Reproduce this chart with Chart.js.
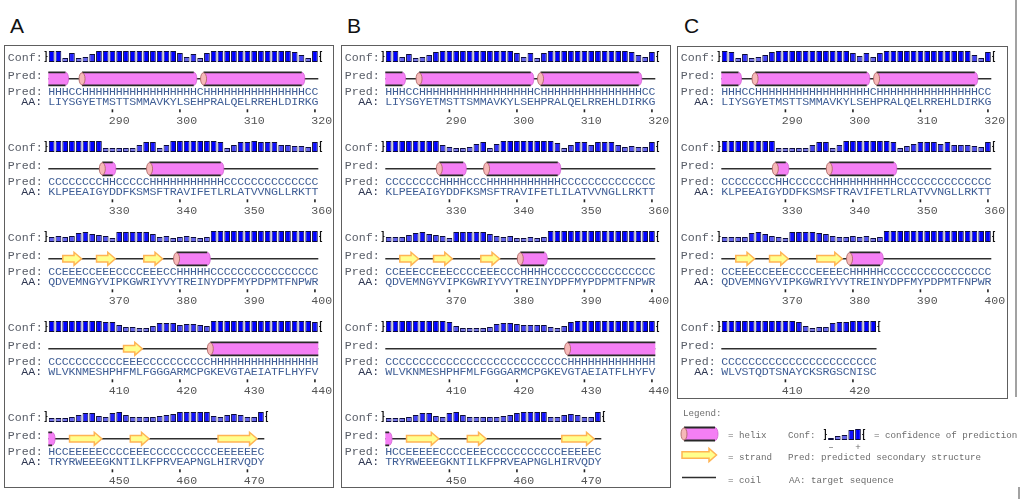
<!DOCTYPE html>
<html>
<head>
<meta charset="utf-8">
<script src="https://cdn.jsdelivr.net/npm/chart.js@4.4.1/dist/chart.umd.min.js"></script>
<style>
html, body { margin: 0; padding: 0; background: #fff; }
body { width: 1024px; height: 499px; position: relative; overflow: hidden; }
.panel { position: absolute; border: 1.5px solid #5e5e5e; box-sizing: border-box; }
.tag { position: absolute; font: 21px "Liberation Sans", Arial, sans-serif; line-height: 21px; color: #111; }
.edge { position: absolute; width: 1.5px; background: #a2a2a2; }
canvas { position: absolute; }
</style>
</head>
<body>
<div class="tag" style="left:10px;top:15px">A</div>
<div class="tag" style="left:347px;top:15px">B</div>
<div class="tag" style="left:684px;top:15px">C</div>
<div class="panel" style="left:4px;top:45px;width:330px;height:443px"></div>
<div class="panel" style="left:341px;top:45px;width:330px;height:443px"></div>
<div class="panel" style="left:677px;top:46px;width:331px;height:353px"></div>
<div class="edge" style="left:1015px;top:0;height:397px"></div>
<div class="edge" style="left:1018px;top:487px;height:12px"></div>
<script>
// first residue number of each line
const rowStarts = [281, 321, 361, 401, 441];

// target sequence, one string per line
const aaA = [
    'LIYSGYETMSTTSMMAVKYLSEHPRALQELRREHLDIRKG',
    'KLPEEAIGYDDFKSMSFTRAVIFETLRLATVVNGLLRKTT',
    'QDVEMNGYVIPKGWRIYVYTREINYDPFMYPDPMTFNPWR',
    'WLVKNMESHPHFMLFGGGARMCPGKEVGTAEIATFLHYFV',
    'TRYRWEEEGKNTILKFPRVEAPNGLHIRVQDY',
];
const aaB = [
    'LIYSGYETMSTTSMMAVKYLSEHPRALQELRREHLDIRKG',
    'KLPEEAIGYDDFKSMSFTRAVIFETLILATVVNGLLRKTT',
    'QDVEMNGYVIPKGWRIYVYTREINYDPFMYPDPMTFNPWR',
    'WLVKNMESHPHFMLFGGGARMCPGKEVGTAEIATFLHYFV',
    'TRYRWEEEGKNTILKFPRVEAPNGLHIRVQDY',
];
const aaC = [
    'LIYSGYETMSTTSMMAVKYLSEHPRALQELRREHLDIRKG',
    'KLPEEAIGYDDFKSMSFTRAVIFETLRLATVVNGLLRKTT',
    'QDVEMNGYVIPKGWRIYVYTREINYDPFMYPDPMTFNPWR',
    'WLVSTQDTSNAYCKSRGSCNISC',
];

// predicted secondary structure (H helix, E strand, C coil)
const predA = [
    'HHHCCHHHHH' + 'HHHHHHHHHH' + 'HHCHHHHHHH' + 'HHHHHHHHCC',
    'CCCCCCCCHH' + 'CCCCCHHHHH' + 'HHHHHHCCCC' + 'CCCCCCCCCC',
    'CCEEECCEEE' + 'CCCCEEECCH' + 'HHHHCCCCCC' + 'CCCCCCCCCC',
    'CCCCCCCCCC' + 'CEEECCCCCC' + 'CCCCHHHHHH' + 'HHHHHHHHHH',
    'HCCEEEEECC' + 'CCEEECCCCC' + 'CCCCCEEEEE' + 'EC',
];
const predB = [
    'HHHCCHHHHH' + 'HHHHHHHHHH' + 'HHCHHHHHHH' + 'HHHHHHHHCC',
    'CCCCCCCCHH' + 'HHCCCHHHHH' + 'HHHHHHCCCC' + 'CCCCCCCCCC',
    'CCEEECCEEE' + 'CCCCEEECCC' + 'HHHHCCCCCC' + 'CCCCCCCCCC',
    'CCCCCCCCCC' + 'CCCCCCCCCC' + 'CCCCCCCHHH' + 'HHHHHHHHHH',
    'HCCEEEEECC' + 'CCEEECCCCC' + 'CCCCCCEEEE' + 'EC',
];
const predC = [
    'HHHCCHHHHH' + 'HHHHHHHHHH' + 'HHCHHHHHHH' + 'HHHHHHHHCC',
    'CCCCCCCCHH' + 'CCCCCCHHHH' + 'HHHHHHCCCC' + 'CCCCCCCCCC',
    'CCEEECCEEE' + 'CCCCEEEECH' + 'HHHHCCCCCC' + 'CCCCCCCCCC',
    'CCCCCCCCCC' + 'CCCCCCCCCC' + 'CCC',
];

// confidence of prediction, 0..9 per residue
const confA = [
    [9,9,2,7,2,3,6,9,9,9, 9,9,9,9,9,9,9,9,9,7, 3,6,2,7,9,9,9,9,9,9, 9,9,9,9,9,9,8,5,2,9],
    [9,9,9,9,9,9,9,9,2,2, 2,2,2,5,8,8,2,5,9,9, 9,9,9,9,9,8,2,5,8,8, 9,8,8,8,5,5,4,4,3,8],
    [3,4,3,4,7,8,6,5,4,2, 8,8,8,8,8,6,3,4,2,3, 4,3,2,3,9,9,9,9,9,9, 9,9,9,9,9,9,9,9,9,9],
    [9,9,9,9,9,9,9,9,8,8, 5,3,3,2,2,4,7,7,7,5, 6,6,5,4,9,9,9,9,9,9, 9,9,9,9,9,9,9,9,9,8],
    [2,2,2,3,5,7,7,4,3,7, 8,5,3,3,3,3,4,5,6,8, 8,8,8,8,4,3,5,6,5,3, 3,8],
];
const confB = [
    [9,9,3,6,2,3,5,8,9,9, 9,9,9,9,9,9,9,9,9,7, 3,7,2,7,9,9,9,9,9,9, 9,9,9,9,9,9,8,5,3,8],
    [9,9,9,9,9,9,9,9,5,3, 2,2,3,6,8,2,6,9,9,9, 9,9,9,9,9,7,2,5,8,8, 5,8,8,8,5,3,4,3,3,8],
    [3,3,3,5,7,8,6,5,4,2, 8,8,8,8,8,6,4,3,4,2, 2,3,2,3,9,9,9,9,9,9, 9,9,9,9,9,9,9,9,9,9],
    [9,9,9,9,9,9,9,9,9,8, 4,2,2,2,2,3,6,7,7,6, 5,5,5,5,3,2,4,8,9,9, 9,9,9,9,9,9,9,9,9,9],
    [2,2,2,3,5,7,7,4,3,7, 8,5,3,3,3,3,3,4,5,7, 8,8,8,8,3,3,5,6,5,3, 3,8],
];
const confC = [
    [9,8,2,6,2,3,5,8,9,9, 9,9,9,9,9,9,9,9,9,7, 4,7,3,7,9,9,9,9,9,9, 9,9,9,9,9,9,9,5,2,8],
    [9,9,9,9,9,9,9,9,2,2, 2,2,2,5,8,8,2,5,9,9, 9,9,9,9,9,8,2,4,6,8, 8,8,6,8,5,5,5,4,3,8],
    [3,3,3,3,7,8,6,4,3,2, 8,8,8,8,7,6,4,3,3,4, 3,4,2,3,9,9,9,9,9,9, 9,9,9,9,9,9,9,9,9,9],
    [9,9,9,9,9,9,9,9,9,9, 9,8,4,2,3,3,7,8,8,9, 9,9,9],
];

// the little confidence scale in the legend
const legendConf = [0, 2, 3, 8, 9];

const ROW_LEN = 40;
const CHAR_W = 6.75;
const MONO = '"Liberation Mono", "Courier New", monospace';
const SEQ_FONT = '11.6px ' + MONO;
const LEG_FONT = '9.2px ' + MONO;
const SEQ_COL = '#3f5e96';
const LABEL_COL = '#575c66';

function confColor(v) {
    const t = v / 9;
    const c = Math.round(150 * (1 - t));
    return `rgb(${c},${c},${Math.round(255 - 22 * (1 - t))})`;
}

function drawBracket(ctx, x, top, bottom, dir) {
    // dir -1 = opening bracket left of the bars, 1 = closing bracket right of them
    ctx.save();
    ctx.strokeStyle = '#111';
    ctx.lineWidth = 1.2;
    const xv = x + dir * 2.2;
    ctx.beginPath();
    ctx.moveTo(xv + dir * 1.6, top + 0.5);
    ctx.lineTo(xv, top + 0.5);
    ctx.lineTo(xv, bottom - 0.5);
    ctx.lineTo(xv + dir * 1.6, bottom - 0.5);
    ctx.moveTo(xv, (top + bottom) / 2);
    ctx.lineTo(xv - dir * 1.4, (top + bottom) / 2);
    ctx.stroke();
    ctx.restore();
}

function drawHelix(ctx, xs, xe, yc, capLeft, roundRight) {
    const hh = 6.5, r = 3;
    ctx.save();
    ctx.fillStyle = '#f47ff4';
    ctx.beginPath();
    ctx.moveTo(xs, yc - hh);
    if (roundRight) {
        ctx.lineTo(xe - r, yc - hh);
        ctx.ellipse(xe - r, yc, r, hh, 0, -Math.PI / 2, Math.PI / 2);
    } else {
        ctx.lineTo(xe, yc - hh);
        ctx.lineTo(xe, yc + hh);
    }
    ctx.lineTo(xs, yc + hh);
    ctx.closePath();
    ctx.fill();

    ctx.strokeStyle = '#282828';
    ctx.lineWidth = 1.8;
    ctx.beginPath();
    ctx.moveTo(xs, yc - hh);
    ctx.lineTo(roundRight ? xe - r : xe, yc - hh);
    ctx.moveTo(xs, yc + hh);
    ctx.lineTo(roundRight ? xe - r : xe, yc + hh);
    ctx.stroke();
    if (roundRight) {
        ctx.strokeStyle = '#d060d0';
        ctx.lineWidth = 0.8;
        ctx.beginPath();
        ctx.ellipse(xe - r, yc, r, hh, 0, -Math.PI / 2, Math.PI / 2);
        ctx.stroke();
    }
    if (capLeft) {
        ctx.fillStyle = '#f6b8b8';
        ctx.strokeStyle = '#b06868';
        ctx.lineWidth = 0.9;
        ctx.beginPath();
        ctx.ellipse(xs, yc, r, hh - 0.4, 0, 0, Math.PI * 2);
        ctx.fill();
        ctx.stroke();
    }
    ctx.restore();
}

function drawStrand(ctx, xs, xe, yc) {
    const sh = 3.3, hh = 6.5;
    const hl = Math.min(8, (xe - xs) * 0.45);
    ctx.save();
    ctx.fillStyle = '#ffff8e';
    ctx.strokeStyle = '#ffb454';
    ctx.lineWidth = 1.5;
    ctx.lineJoin = 'miter';
    ctx.beginPath();
    ctx.moveTo(xs + 1, yc - sh);
    ctx.lineTo(xe - hl, yc - sh);
    ctx.lineTo(xe - hl, yc - hh);
    ctx.lineTo(xe - 0.5, yc);
    ctx.lineTo(xe - hl, yc + hh);
    ctx.lineTo(xe - hl, yc + sh);
    ctx.lineTo(xs + 1, yc + sh);
    ctx.closePath();
    ctx.fill();
    ctx.stroke();
    ctx.restore();
}

function drawCoil(ctx, xs, xe, yc) {
    ctx.save();
    ctx.strokeStyle = '#2e2e2e';
    ctx.lineWidth = 1.6;
    ctx.beginPath();
    ctx.moveTo(xs, yc);
    ctx.lineTo(xe, yc);
    ctx.stroke();
    ctx.restore();
}

function rowPlugin(start, aa, pred) {
    return {
        id: 'psipredRow',
        afterDatasetsDraw(chart) {
            const { ctx, chartArea: area, scales: { x } } = chart;
            const n = aa.length;
            const cx = i => x.getPixelForValue(i);
            const half = (cx(1) - cx(0)) / 2;
            const yb = area.bottom;
            const yPred = yb + 16.8;
            const lx = area.left - 12 * half;

            ctx.save();
            ctx.font = SEQ_FONT;
            ctx.textBaseline = 'middle';
            ctx.textAlign = 'left';
            ctx.fillStyle = LABEL_COL;
            ctx.fillText('Conf:', lx, yb - 4);
            ctx.fillText('Pred:', lx, yb + 13.5);
            ctx.fillText('Pred:', lx, yb + 30.3);
            ctx.fillStyle = '#2e3752';
            ctx.fillText('AA:', lx + 4 * half, yb + 40.2);

            drawBracket(ctx, cx(0) - half, area.top, yb, -1);
            drawBracket(ctx, cx(n - 1) + half, area.top, yb, 1);

            // coil runs underneath everything, helices and strands on top
            drawCoil(ctx, cx(0) - half, cx(n - 1) + half, yPred);
            let i = 0;
            while (i < n) {
                let j = i;
                while (j + 1 < n && pred[j + 1] === pred[i]) j++;
                const xs = cx(i) - half, xe = cx(j) + half;
                if (pred[i] === 'H') drawHelix(ctx, xs, xe, yPred, i > 0, j < n - 1);
                else if (pred[i] === 'E') drawStrand(ctx, xs, xe, yPred);
                i = j + 1;
            }

            ctx.font = SEQ_FONT;
            ctx.textAlign = 'center';
            ctx.fillStyle = SEQ_COL;
            for (let k = 0; k < n; k++) {
                ctx.fillText(pred[k], cx(k), yb + 30.3);
                ctx.fillText(aa[k], cx(k), yb + 40.2);
            }
            for (let k = 0; k < n; k++) {
                const num = start + k;
                if (num % 10 !== 0) continue;
                ctx.fillStyle = '#222';
                ctx.fillRect(cx(k) - 0.8, yb + 47.3, 1.6, 3);
                ctx.fillStyle = '#555';
                ctx.fillText(String(num), cx(k) + 2 * half, yb + 58.7);
            }
            ctx.restore();
        },
    };
}

function makeRow(panelLeft, r, aa, pred, conf) {
    const b = 61.5 + 90 * r;
    const W = 330, H = 84, TOP = 16, padL = 44.3;
    const cv = document.createElement('canvas');
    cv.width = W;
    cv.height = H;
    cv.style.left = panelLeft + 'px';
    cv.style.top = (b - TOP) + 'px';
    document.body.appendChild(cv);

    const start = rowStarts[r];
    const labels = [];
    for (let k = 0; k < ROW_LEN; k++) labels.push(String(start + k));

    new Chart(cv, {
        type: 'bar',
        data: {
            labels: labels,
            datasets: [
                {
                    data: conf,
                    base: -2,
                    backgroundColor: conf.map(confColor),
                    borderColor: '#0c0c3a',
                    borderWidth: 1,
                    borderSkipped: false,
                    barPercentage: 0.85,
                    categoryPercentage: 1,
                },
            ],
        },
        options: {
            responsive: false,
            animation: false,
            events: [],
            layout: { padding: { left: padL, right: W - padL - ROW_LEN * CHAR_W, top: TOP - 11, bottom: H - TOP } },
            scales: {
                x: { display: false },
                y: { display: false, min: -2, max: 9 },
            },
            plugins: { legend: { display: false }, tooltip: { enabled: false } },
        },
        plugins: [rowPlugin(start, aa, pred)],
    });
}

const panels = [
    { left: 4, aa: aaA, pred: predA, conf: confA },
    { left: 341, aa: aaB, pred: predB, conf: confB },
    { left: 677, aa: aaC, pred: predC, conf: confC },
];
panels.forEach(p => {
    p.aa.forEach((seq, r) => makeRow(p.left, r, seq, p.pred[r], p.conf[r]));
});

// legend under panel C
const LX = 676, LY = 405;
const legendPlugin = {
    id: 'psipredLegend',
    afterDatasetsDraw(chart) {
        const { ctx, chartArea: area, scales: { x } } = chart;
        const cx = i => x.getPixelForValue(i);
        const half = (cx(1) - cx(0)) / 2;
        const px = v => v - LX, py = v => v - LY;
        ctx.save();
        drawBracket(ctx, cx(0) - half, area.top, area.bottom, -1);
        drawBracket(ctx, cx(legendConf.length - 1) + half, area.top, area.bottom, 1);

        drawHelix(ctx, px(684), px(718), py(434), true, true);
        drawStrand(ctx, px(681), px(717), py(455));
        drawCoil(ctx, px(682), px(716), py(477.5));

        ctx.font = LEG_FONT;
        ctx.textBaseline = 'middle';
        ctx.textAlign = 'left';
        ctx.fillStyle = '#6c6c6c';
        ctx.fillText('Legend:', px(683), py(414));
        ctx.fillText('= helix', px(728), py(436));
        ctx.fillText('= strand', px(728), py(458));
        ctx.fillText('= coil', px(728), py(481));
        ctx.fillText('Conf:', px(788), py(436));
        ctx.fillText('= confidence of prediction', px(874), py(436));
        ctx.fillText('Pred: predicted secondary structure', px(788), py(458));
        ctx.fillText('AA: target sequence', px(789), py(481));
        ctx.textAlign = 'center';
        ctx.fillText('\u2013', cx(0), py(447.5));
        ctx.fillText('+', cx(legendConf.length - 1), py(447.5));
        ctx.restore();
    },
};

(function makeLegend() {
    const W = 348, H = 92;
    const cv = document.createElement('canvas');
    cv.width = W;
    cv.height = H;
    cv.style.left = LX + 'px';
    cv.style.top = LY + 'px';
    document.body.appendChild(cv);
    const padL = 827.6 - LX;
    new Chart(cv, {
        type: 'bar',
        data: {
            labels: legendConf.map((v, k) => String(k)),
            datasets: [
                {
                    data: legendConf,
                    base: -2,
                    backgroundColor: legendConf.map(confColor),
                    borderColor: '#0c0c3a',
                    borderWidth: 1,
                    borderSkipped: false,
                    barPercentage: 0.85,
                    categoryPercentage: 1,
                },
            ],
        },
        options: {
            responsive: false,
            animation: false,
            events: [],
            layout: { padding: { left: padL, right: W - padL - legendConf.length * CHAR_W, top: 429 - LY, bottom: H - (440 - LY) } },
            scales: {
                x: { display: false },
                y: { display: false, min: -2, max: 9 },
            },
            plugins: { legend: { display: false }, tooltip: { enabled: false } },
        },
        plugins: [legendPlugin],
    });
})();
</script>
</body>
</html>
